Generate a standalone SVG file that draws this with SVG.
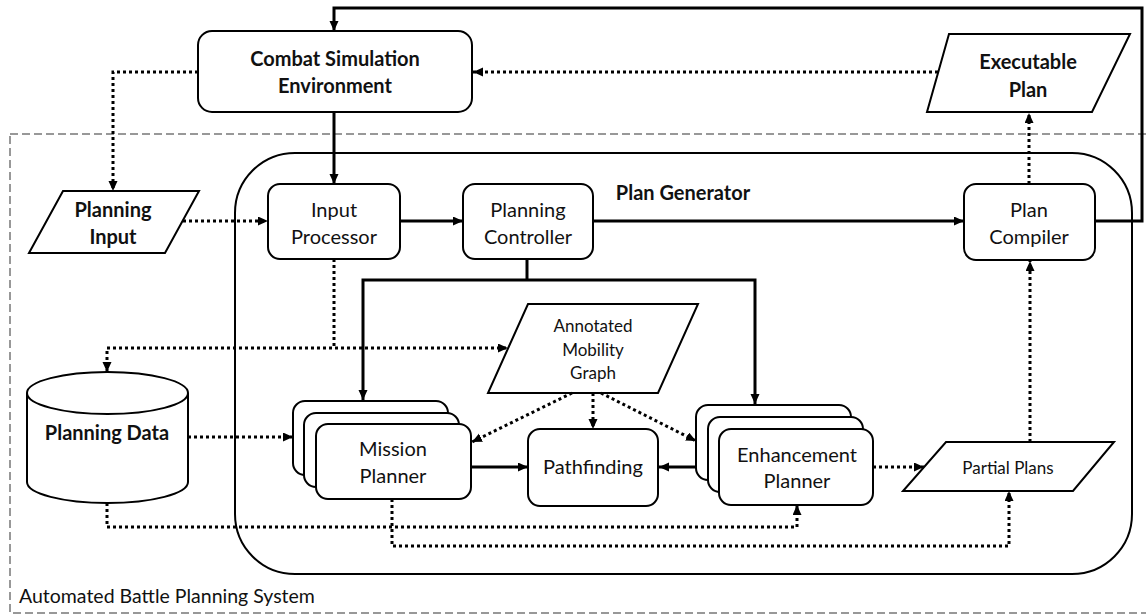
<svg xmlns="http://www.w3.org/2000/svg" width="1146" height="615" viewBox="0 0 1146 615">
  <style>
    .box { fill: #fff; stroke: #000; stroke-width: 2; }
    .lbl { font-family: Lato, "Liberation Sans", sans-serif; font-size: 20px; fill: #111; text-anchor: middle; }
    .b { font-weight: bold; }
    .sm { font-size: 17px; }
    .solid { fill: none; stroke: #000; stroke-width: 3; stroke-linejoin: miter; }
    .dot { fill: none; stroke: #000; stroke-width: 3; stroke-dasharray: 3 3; }
    .ah { marker-end: url(#arrow); }
    .ahs { marker-start: url(#arrow); }
  </style>
  <defs>
    <marker id="arrow" markerUnits="userSpaceOnUse" markerWidth="10" markerHeight="10" refX="10" refY="4.5" orient="auto-start-reverse">
      <path d="M0,0 L10,4.5 L0,9 z" fill="#000"/>
    </marker>
  </defs>
  <rect width="1146" height="615" fill="#fff"/>

  <!-- system boundary -->
  <g id="system">
    <rect x="10" y="134" width="1140" height="479" fill="none" stroke="#777" stroke-width="1.5" stroke-dasharray="8 4"/>
    <text x="19" y="603" class="lbl" style="text-anchor:start;font-size:19.5px">Automated Battle Planning System</text>
  </g>

  <!-- plan generator container -->
  <g id="plan-generator">
    <rect x="235" y="153" width="897" height="421" rx="60" ry="60" fill="none" stroke="#000" stroke-width="2"/>
    <text x="683" y="200" class="lbl b">Plan Generator</text>
  </g>

  <g id="combat-simulation">
    <rect x="198" y="31" width="274" height="81" rx="14" class="box"/>
    <text x="335" y="66" class="lbl b">Combat Simulation</text>
    <text x="335" y="93" class="lbl b">Environment</text>
  </g>

  <g id="executable-plan">
    <polygon points="949,34 1130,34 1092,112 927,112" class="box"/>
    <text x="1028" y="69" class="lbl b">Executable</text>
    <text x="1028" y="97" class="lbl b">Plan</text>
  </g>

  <g id="planning-input">
    <polygon points="63,191 199,191 165,253 29,253" class="box"/>
    <text x="113" y="217" class="lbl b">Planning</text>
    <text x="113" y="244" class="lbl b">Input</text>
  </g>

  <g id="input-processor">
    <rect x="268" y="184" width="132" height="75" rx="12" class="box"/>
    <text x="334" y="217" class="lbl">Input</text>
    <text x="334" y="244" class="lbl">Processor</text>
  </g>

  <g id="planning-controller">
    <rect x="463" y="184" width="130" height="75" rx="12" class="box"/>
    <text x="528" y="217" class="lbl">Planning</text>
    <text x="528" y="244" class="lbl">Controller</text>
  </g>

  <g id="plan-compiler">
    <rect x="964" y="184" width="131" height="76" rx="12" class="box"/>
    <text x="1029" y="217" class="lbl">Plan</text>
    <text x="1029" y="244" class="lbl">Compiler</text>
  </g>

  <g id="annotated-mobility-graph">
    <polygon points="528,304 698,304 658,393 488,393" class="box"/>
    <text x="593" y="332" class="lbl sm">Annotated</text>
    <text x="593" y="356" class="lbl sm">Mobility</text>
    <text x="593" y="379" class="lbl sm">Graph</text>
  </g>

  <g id="planning-data">
    <path d="M27,393 A80.5,21 0 0 1 188,393 V482 A80.5,21 0 0 1 27,482 Z" class="box"/>
    <path d="M27,393 A80.5,21 0 0 0 188,393" fill="none" stroke="#000" stroke-width="2"/>
    <text x="107" y="440" class="lbl b">Planning Data</text>
  </g>

  <g id="mission-planner">
    <rect x="293" y="401" width="155" height="74" rx="12" class="box"/>
    <rect x="304" y="413" width="155" height="74" rx="12" class="box"/>
    <rect x="316" y="424" width="155" height="75" rx="12" class="box"/>
    <text x="393" y="456" class="lbl">Mission</text>
    <text x="393" y="483" class="lbl">Planner</text>
  </g>

  <g id="pathfinding">
    <rect x="528" y="429" width="130" height="77" rx="12" class="box"/>
    <text x="593" y="474" class="lbl">Pathfinding</text>
  </g>

  <g id="enhancement-planner">
    <rect x="696" y="405" width="155" height="75" rx="12" class="box"/>
    <rect x="708" y="417" width="155" height="75" rx="12" class="box"/>
    <rect x="719" y="429" width="154" height="76" rx="12" class="box"/>
    <text x="797" y="462" class="lbl">Enhancement</text>
    <text x="797" y="488" class="lbl">Planner</text>
  </g>

  <g id="partial-plans">
    <polygon points="946,442 1114,442 1073,491 903,491" class="box"/>
    <text x="1008" y="474" class="lbl sm">Partial Plans</text>
  </g>

  <g id="connectors">
    <!-- control flow (solid) -->
    <path d="M1095,221 H1142 V8 H334 V31" class="solid ah"/>
    <path d="M334,112 V184" class="solid ah"/>
    <path d="M400,221 H463" class="solid ah"/>
    <path d="M593,221 H964" class="solid ah"/>
    <path d="M527,259 V280" class="solid"/>
    <path d="M363,400 V280 H755 V404" class="solid ahs ah"/>
    <path d="M471,467 H528" class="solid ah"/>
    <path d="M696,467 H659" class="solid ah"/>

    <!-- data flow (dotted) -->
    <path d="M938,72 H473" class="dot ah"/>
    <path d="M198,72 H113 V191" class="dot ah"/>
    <path d="M183,221 H268" class="dot ah"/>
    <path d="M334,259 V348" class="dot"/>
    <path d="M107,372 V348 H508" class="dot ahs ah"/>
    <path d="M1029,184 V113" class="dot ah"/>
    <path d="M1030,442 V261" class="dot ah"/>
    <path d="M188,437 H293" class="dot ah"/>
    <path d="M572,393 L472,442" class="dot ah"/>
    <path d="M593,393 V429" class="dot ah"/>
    <path d="M601,393 L696,441" class="dot ah"/>
    <path d="M873,467 H924" class="dot ah"/>
    <path d="M107,503 V527 H797 V505" class="dot ah"/>
    <path d="M392,499 V546 H1009 V491" class="dot ah"/>
  </g>
</svg>
